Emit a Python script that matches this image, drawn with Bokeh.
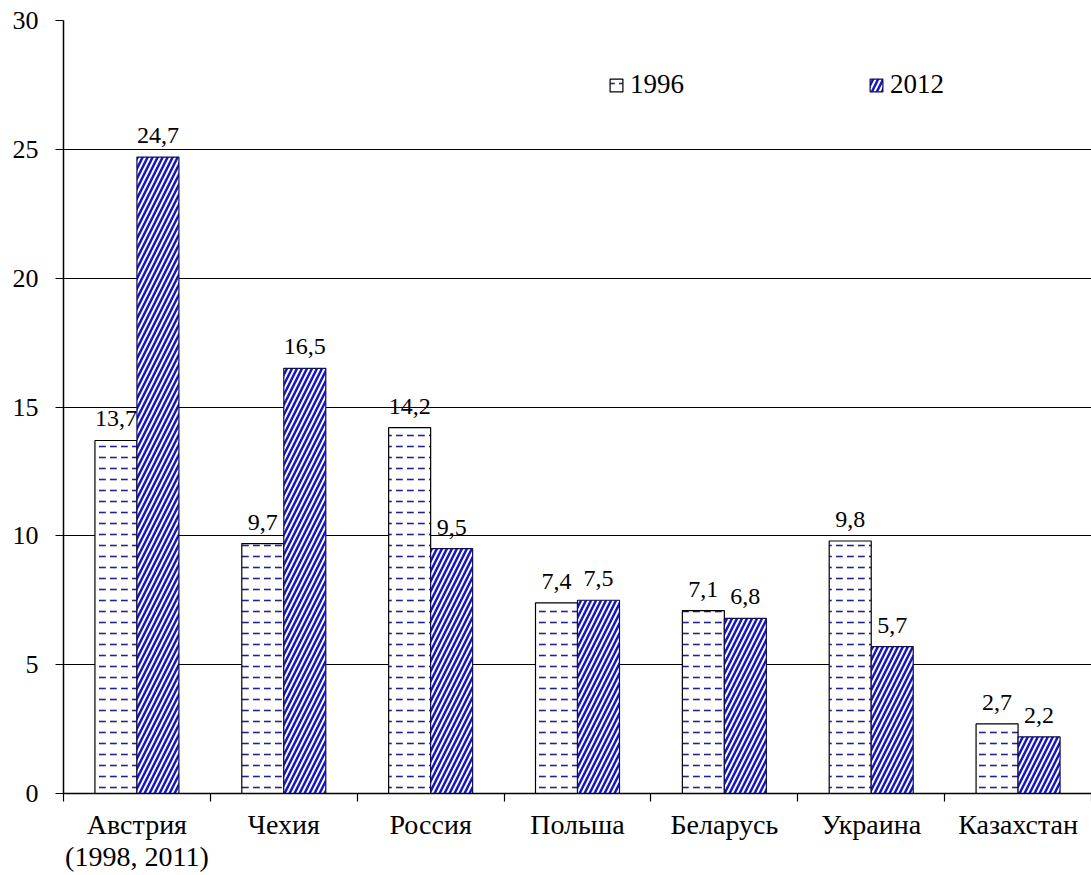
import numpy as np
from bokeh.plotting import figure
from bokeh.models import (ColumnDataSource, Range1d, FixedTicker, LabelSet, Legend, LegendItem)
from bokeh.transform import dodge
from bokeh.embed import file_html
from bokeh.resources import INLINE

categories = ["Австрия\n(1998, 2011)", "Чехия", "Россия", "Польша", "Беларусь", "Украина", "Казахстан"]
values_1996 = [13.7, 9.7, 14.2, 7.4, 7.1, 9.8, 2.7]
values_2012 = [24.7, 16.5, 9.5, 7.5, 6.8, 5.7, 2.2]
y_ticks = [0, 5, 10, 15, 20, 25, 30]

FONT = "Liberation Serif"
BLUE = "#1414c4"

n = len(categories)
xc = [i + 0.5 for i in range(n)]
src = ColumnDataSource(dict(
    x=xc,
    v96=values_1996,
    v12=values_2012,
    t96=[f"{v:.1f}".replace(".", ",") for v in values_1996],
    t12=[f"{v:.1f}".replace(".", ",") for v in values_2012],
))

p = figure(width=1091, height=875, output_backend="svg", toolbar_location=None,
           x_range=Range1d(0, n), y_range=Range1d(0, 30),
           min_border_left=63, min_border_right=0, min_border_top=20, min_border_bottom=81)
p.outline_line_color = None
p.background_fill_color = "white"
p.border_fill_color = "white"

off = 0.143
w = 0.286
r1 = p.vbar(x=dodge("x", -off, range=p.x_range), top="v96", width=w, source=src,
            fill_color="white", line_color="black", line_width=1.2,
            hatch_pattern="horizontal_dash", hatch_color="#22228f", hatch_scale=11, hatch_weight=1.6)
r2 = p.vbar(x=dodge("x", off, range=p.x_range), top="v12", width=w, source=src,
            fill_color=BLUE, line_color="#101050", line_width=1.2,
            hatch_pattern="right_diagonal_line", hatch_color="white", hatch_scale=10, hatch_weight=2.0)

for col, tcol, o in (("v96", "t96", -off), ("v12", "t12", off)):
    p.add_layout(LabelSet(x=dodge("x", o, range=p.x_range), y=col, text=tcol, source=src,
                          text_align="center", text_baseline="alphabetic", y_offset=14,
                          text_font=FONT, text_font_size="24px", text_color="black"))

# x axis
xa = p.xaxis[0]
xa.ticker = FixedTicker(ticks=xc, minor_ticks=list(range(n + 1)))
xa.major_label_overrides = {x: c for x, c in zip(xc, categories)}
xa.major_tick_line_color = None
xa.minor_tick_line_color = "black"
xa.minor_tick_line_width = 1.2
xa.minor_tick_out = 8
xa.minor_tick_in = 0
xa.axis_line_color = "black"
xa.axis_line_width = 1.5
xa.major_label_text_font = FONT
xa.major_label_text_font_size = "28px"
xa.major_label_text_color = "black"
xa.major_label_text_line_height = 1.05
xa.major_label_standoff = 7

ya = p.yaxis[0]
ya.ticker = FixedTicker(ticks=y_ticks)
ya.major_tick_out = 8
ya.major_tick_in = 0
ya.major_tick_line_color = "black"
ya.major_tick_line_width = 1.2
ya.minor_tick_line_color = None
ya.axis_line_color = "black"
ya.axis_line_width = 1.5
ya.major_label_text_font = FONT
ya.major_label_text_font_size = "26px"
ya.major_label_text_color = "black"
ya.major_label_standoff = 17

p.xgrid.grid_line_color = None
p.ygrid.grid_line_color = "black"
p.ygrid.grid_line_width = 1.2

legend = Legend(items=[LegendItem(label="1996", renderers=[r1]),
                       LegendItem(label="2012", renderers=[r2])],
                orientation="horizontal", location=(545, 693),
                spacing=184, padding=0, margin=0,
                border_line_color=None, background_fill_alpha=0,
                glyph_width=16, glyph_height=16, label_standoff=6,
                label_text_font=FONT, label_text_font_size="27px", label_text_color="black")
p.add_layout(legend)

open("out.html", "w").write(file_html(p, INLINE))
